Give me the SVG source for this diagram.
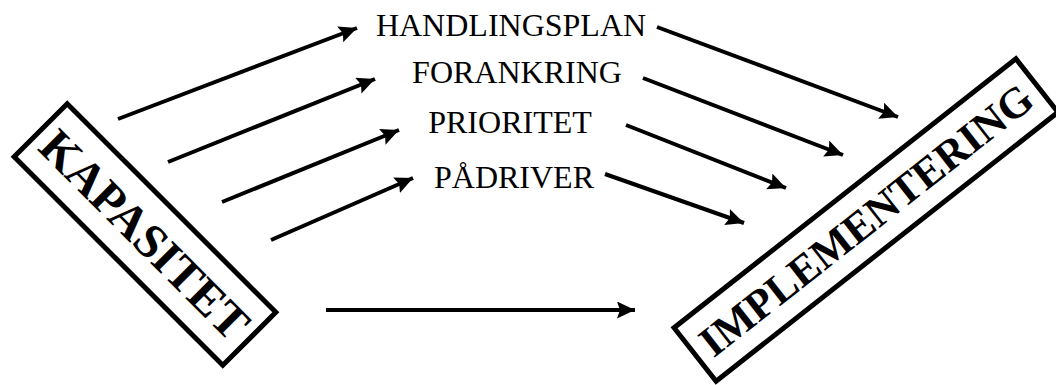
<svg xmlns="http://www.w3.org/2000/svg" width="1056" height="385" viewBox="0 0 1056 385">
  <defs>
    <marker id="arrow" markerUnits="userSpaceOnUse" markerWidth="20" markerHeight="18" refX="18" refY="8.5" orient="auto">
      <path d="M0,0 L18,8.5 L0,17 L3,8.5 Z" fill="#000"/>
    </marker>
    <style>
      .box { fill: #fff; stroke: #000; stroke-width: 5; }
      .big { font-family: "Liberation Serif", "Times New Roman", serif; font-weight: bold; fill: #000; text-anchor: middle; dominant-baseline: central; }
      .lbl { font-family: "Liberation Serif", "Times New Roman", serif; font-size: 32px; fill: #000; text-anchor: middle; }
      .conn line { stroke: #000; stroke-width: 4; marker-end: url(#arrow); }
    </style>
  </defs>
  <rect width="1056" height="385" fill="#fff"/>

  <g id="kapasitet" transform="translate(145,234.5) rotate(45)">
    <rect class="box" x="-147.5" y="-37.5" width="295" height="75"/>
    <text class="big" x="0" y="0" font-size="48">KAPASITET</text>
  </g>

  <g id="implementering" transform="translate(866,220) rotate(-38.2)">
    <rect class="box" x="-217.5" y="-34" width="435" height="68"/>
    <text class="big" x="0" y="0" font-size="43">IMPLEMENTERING</text>
  </g>

  <g id="handlingsplan"><text class="lbl" x="511" y="36">HANDLINGSPLAN</text></g>
  <g id="forankring"><text class="lbl" x="517" y="83">FORANKRING</text></g>
  <g id="prioritet"><text class="lbl" x="510" y="133">PRIORITET</text></g>
  <g id="padriver"><text class="lbl" x="514" y="188">PÅDRIVER</text></g>

  <g id="connectors" class="conn">
    <line x1="118" y1="119" x2="357" y2="28"/>
    <line x1="168" y1="162" x2="375" y2="79"/>
    <line x1="222" y1="202" x2="399" y2="130"/>
    <line x1="271" y1="240" x2="413" y2="178"/>
    <line x1="657" y1="27" x2="898" y2="117"/>
    <line x1="643" y1="78" x2="843" y2="155"/>
    <line x1="626" y1="125" x2="786" y2="188"/>
    <line x1="605" y1="174" x2="744" y2="223"/>
    <line x1="326" y1="310" x2="635" y2="310"/>
  </g>
</svg>
